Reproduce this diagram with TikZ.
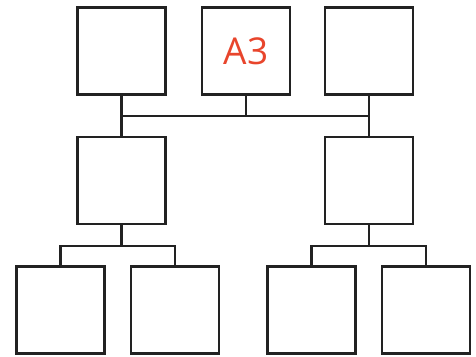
\documentclass[tikz,border=0pt]{standalone}
\usepackage{fontspec}
\setmainfont{Open Sans}
\definecolor{labelred}{HTML}{E8452C}
\definecolor{lijn}{HTML}{222222}
\tikzset{
	blok/.style={draw=lijn,line width=2.4pt,minimum width=88pt,minimum height=87pt,inner sep=0pt},
	tak/.style={draw=lijn,line width=2.4pt}
}
\begin{document}
\begin{tikzpicture}[x=1pt,y=1pt]
	\useasboundingbox (0,0) rectangle (476,-356);
	% bovenste rij
	\node [blok] (t1) at (121.5,-51) {};
	\node [blok,text=labelred,font=\fontsize{37}{37}\selectfont] (t2) at (246,-51) {A3};
	\node [blok] (t3) at (369,-51) {};
	% middelste rij
	\node [blok] (m1) at (121.5,-180.5) {};
	\node [blok] (m2) at (369,-180.5) {};
	% onderste rij
	\node [blok] (b1) at (60.5,-310) {};
	\node [blok] (b2) at (175,-310) {};
	\node [blok] (b3) at (311.5,-310) {};
	\node [blok] (b4) at (426,-310) {};
	\coordinate (ra) at (0,-116);
	\coordinate (rb) at (0,-246);
	\draw [tak] (t1.south) -- (m1.north);
	\draw [tak] (t3.south) -- (m2.north);
	\draw [tak] (t1.south |- ra) -- (t3.south |- ra);
	\draw [tak] (t2.south) -- (t2.south |- ra);
	\draw [tak] (m1.south) -- (m1.south |- rb);
	\draw [tak] (b1.north) -- (b1.north |- rb) -- (b2.north |- rb) -- (b2.north);
	\draw [tak] (m2.south) -- (m2.south |- rb);
	\draw [tak] (b3.north) -- (b3.north |- rb) -- (b4.north |- rb) -- (b4.north);
\end{tikzpicture}
\end{document}
